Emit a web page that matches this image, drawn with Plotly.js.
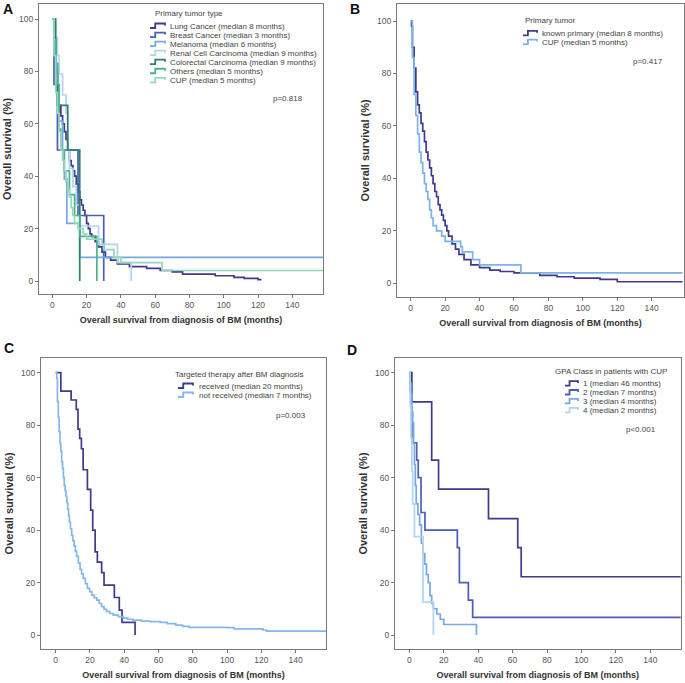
<!DOCTYPE html>
<html><head><meta charset="utf-8">
<script src="https://cdn.plot.ly/plotly-3.0.1.min.js"></script>
<style>body{margin:0;background:#fff}#chart{width:685px;height:683px}</style>
</head><body><div id="chart"></div>
<script>
// ---------- Panel A: Primary tumor type ----------
const lungT = [0,1,2,3,4,5,6,7,8,9,10,11,12,13,14,15,16,17,18,19,20,21,22,23,25,27,29,31,34,38,45,55,63,70,76,95,106,112,120,122];
const lungS = [100,92,80,72,67,63,60,57,54,50,46,44,42,40,37,34,31,29,27,25,22,20,18,17,15,13,11,9,8,6.5,5.5,4.8,4,3.5,2.6,2,1.4,1,0.5,0.5];
const breastT = [0,1,3,15,30];
const breastS = [100,75,50,25,0];
const melT = [0,1,2,3,4,6,7,8.5,16,158];
const melS = [100,89,78,67,61,50,39,22,9,9];
const renalT = [0,1,3,4,6,8,9,10,12,14,16,27,38,46];
const renalS = [100,93,86,79,71,64,50,43,36,29,21,14,7,0];
const crcT = [0,2,3,9,16];
const crcS = [100,83,67,50,0];
const othT = [0,1,2,3,4,5,7,10,13,16,26];
const othS = [100,92,83,75,58,50,42,33,25,17,0];
const cupT = [0,1,2,3,4,5,6,7,8,9,10,11,12,13,15,18,20,29,30,36,40,64,158];
const cupS = [100,86,72,64,57,50,46,42,38,35,32,28,25,22,20,18,16,14,12,9,7,4,4];
const labelsA = ['Lung Cancer (median 8 months)','Breast Cancer (median 3 months)','Melanoma (median 6 months)','Renal Cell Carcinoma (median 9 months)','Colorectal Carcinoma (median 9 months)','Others (median 5 months)','CUP (median 5 months)'];
const titleA = 'Primary tumor type';
const pA = 'p=0.818';

// ---------- Panel B: Primary tumor ----------
const knownT = [0,0.5,1,2,3,4,5,6,7,8,9,10,11,12,13,14,15,16,17,18,19,20,21,22,24,26,28,31,35,40,46,52,60,75,85,95,110,120,158];
const knownS = [100,98,90,82,73,68,65,61,58,54,50,47,44,41,38,35,33,30,28,26,24,22,20,18,15,13,11,9,7,6,5,4.5,4,3,2.5,2,1.5,0.6,0.6];
const labelsB = ['known primary (median 8 months)','CUP (median 5 months)'];
const titleB = 'Primary tumor';
const pB = 'p=0.417';

// ---------- Panel C: Targeted therapy ----------
const recT = [0,3,9,12,13,14,15,16,18.5,20.4,21.6,23,24.3,26.8,28.2,34.2,37.1,38.7,46.3];
const recS = [100,93,89.6,86,78.5,75,71,63,55.5,47.6,40,31.7,27.8,23.8,19,14.3,9.5,4.8,0];
const notT = [0,0.6,1,1.5,2,2.5,3,3.5,4,4.5,5,5.5,6,6.5,7,7.5,8,8.6,9.3,10,10.7,11.5,12.2,13.2,14.2,15.1,16.1,17.3,18.5,19.8,21,22.5,24,25.4,26.8,28.2,29.7,31.6,33.6,36.5,39.5,42,45,50,55,61,65,70,74,78,100,104,121,123,158];
const notS = [100,97.8,89,83,77.5,73,70,66,63.5,60,57,55,53,50.5,48,45.5,43,40.5,38,36,34,32,30,27.5,25,23.3,21.6,19.6,17.8,16.5,15.2,14.2,13.3,12,10.8,9.8,8.9,8.2,7.6,7,6.4,6,5.7,5.3,5.1,4.8,4.3,3.8,3.3,2.9,2.8,2.3,1.9,1.5,1.5];
const labelsC = ['received (median 20 months)','not received (median 7 months)'];
const titleC = 'Targeted therapy after BM diagnosis';
const pC = 'p=0.003';

// ---------- Panel D: GPA class in CUP ----------
const g1T = [0,1.5,13,17,46,63,65,158];
const g1S = [100,88.9,66.7,55.6,44.4,33.3,22.2,22.2];
const g2T = [0,0.5,1,1.5,4.3,5.2,6.8,9.1,27.9,29.1,34.3,36.8,158];
const g2S = [100,93.3,86.7,73.3,66.7,60,46.7,40,33.3,20,13.3,6.7,6.7];
const g3T = [0,0.5,1,1.5,2,2.5,3,3.5,4,5,6,7,8,9,10,11,12,13,14,16,18,20,39];
const g3S = [100,96,92,85,81,73,65,57,50,46,42,35,31,27,23,20,15,12,10,8,6,4,0];
const g4T = [0,0.5,1,1.5,2,3,8,14];
const g4S = [100,87.5,75,62.5,50,37.5,12.5,0];
const labelsD = ['1 (median 46 months)','2 (median 7 months)','3 (median 4 months)','4 (median 2 months)'];
const titleD = 'GPA Class in patients with CUP';
const pD = 'p<0.001';

const xTicks = [0,20,40,60,80,100,120,140];
const yTicks = [0,20,40,60,80,100];
const panelLetters = ['A','B','C','D'];
const xTitle = 'Overall survival from diagnosis of BM (months)';
const yTitle = 'Overall survival (%)';

// ---------- styling ----------
const C = {
  navy:'#3d3b8e', blue:'#4a5db8', light:'#74a9e2', pale:'#b3d4f0',
  teal:'#2b7f6f', green:'#4bb48b', mint:'#95d8bb'
};
const W = 685, H = 683;
const px = x => x / W, py = y => 1 - y / H;
const FONT = 'Liberation Sans, Arial, sans-serif';

const series = [
  {t:lungT, s:lungS, c:C.navy, ax:1},
  {t:breastT, s:breastS, c:C.blue, ax:1},
  {t:melT, s:melS, c:C.light, ax:1},
  {t:renalT, s:renalS, c:C.pale, ax:1},
  {t:crcT, s:crcS, c:C.teal, ax:1},
  {t:othT, s:othS, c:C.green, ax:1},
  {t:cupT, s:cupS, c:C.mint, ax:1},
  {t:knownT, s:knownS, c:C.navy, ax:2},
  {t:cupT, s:cupS, c:'#7cb3e8', ax:2},
  {t:recT, s:recS, c:C.navy, ax:3},
  {t:notT, s:notS, c:'#84b8ea', ax:3},
  {t:g1T, s:g1S, c:C.navy, ax:4},
  {t:g2T, s:g2S, c:C.blue, ax:4},
  {t:g3T, s:g3S, c:C.light, ax:4},
  {t:g4T, s:g4S, c:C.pale, ax:4}
];
const traces = series.map(d => ({
  x:d.t, y:d.s, type:'scatter', mode:'lines',
  line:{shape:'hv', color:d.c, width:1.7},
  xaxis: d.ax===1?'x':'x'+d.ax, yaxis: d.ax===1?'y':'y'+d.ax,
  showlegend:false, hoverinfo:'skip'
}));

// frames in pixels: [left,right,top,bottom], x tick0 pixel, px per month, y100 pixel, y0 pixel
const frames = [
  {l:39, r:323, t:4, b:294, x0:52.3, xs:240/140, y100:19, yz:281},
  {l:397, r:684, t:4, b:296.7, x0:410.7, xs:241/140, y100:21, yz:283.3},
  {l:41, r:326, t:357.7, b:649, x0:55.7, xs:240/140, y100:372.7, yz:635},
  {l:395, r:680.7, t:358, b:649, x0:409.3, xs:241/140, y100:372.7, yz:635}
];
const layout = {
  width:W, height:H, margin:{l:0,r:0,t:0,b:0},
  paper_bgcolor:'#fff', plot_bgcolor:'#fff',
  font:{family:FONT, size:8.5, color:'#555'},
  showlegend:false, annotations:[], shapes:[]
};
frames.forEach((f,i) => {
  const k = i===0 ? '' : String(i+1);
  const ys = (f.yz - f.y100)/100;
  layout['xaxis'+k] = {
    domain:[px(f.l), px(f.r)], anchor:'y'+k,
    range:[-(f.x0-f.l)/f.xs, (f.r-f.x0)/f.xs],
    tickvals:xTicks, ticks:'outside', ticklen:3, tickcolor:'#777',
    showline:true, mirror:true, linecolor:'#7a7a7a', linewidth:1,
    showgrid:false, zeroline:false,
    tickfont:{family:FONT, size:8.5, color:'#555'},
    title:{text:xTitle, font:{family:FONT, size:9, color:'#333', weight:'bold'}, standoff:7}
  };
  layout['yaxis'+k] = {
    domain:[py(f.b), py(f.t)], anchor:'x'+k,
    range:[-(f.b-f.yz)/ys, 100+(f.y100-f.t)/ys],
    tickvals:yTicks, ticks:'outside', ticklen:3, tickcolor:'#777',
    showline:true, mirror:true, linecolor:'#7a7a7a', linewidth:1,
    showgrid:false, zeroline:false,
    tickfont:{family:FONT, size:8.5, color:'#555'},
    title:{text:yTitle, font:{family:FONT, size:11, color:'#333', weight:'bold'}, standoff:5}
  };
});

// panel letters
const letterPos = [[8,9],[355,9],[9,348],[352,350]];
panelLetters.forEach((L,i) => layout.annotations.push({
  xref:'paper', yref:'paper', x:px(letterPos[i][0]), y:py(letterPos[i][1]),
  xanchor:'center', yanchor:'middle', showarrow:false, text:'<b>'+L+'</b>',
  font:{family:FONT, size:14, color:'#111'}
}));

// legends (title, step-symbol + label rows, p value)
const legends = [
  {title:titleA, labels:labelsA, colors:[C.navy,C.blue,C.light,C.pale,C.teal,C.green,C.mint],
   tx:153, ty:14, y0:26, dy:9.05, sx:150, sw:15, lx:168, p:pA, prx:305, pry:98},
  {title:titleB, labels:labelsB, colors:[C.navy,'#7cb3e8'],
   tx:523, ty:20, y0:33.3, dy:8.8, sx:523, sw:14, lx:540, p:pB, prx:665, pry:61.7},
  {title:titleC, labels:labelsC, colors:[C.navy,'#84b8ea'],
   tx:173, ty:374, y0:386, dy:9, sx:178, sw:15, lx:197, p:pC, prx:308, pry:415},
  {title:titleD, labels:labelsD, colors:[C.navy,C.blue,C.light,C.pale],
   tx:553, ty:371, y0:383.6, dy:8.9, sx:565, sw:13, lx:581, p:pD, prx:658, pry:429}
];
legends.forEach(g => {
  layout.annotations.push({xref:'paper', yref:'paper', x:px(g.tx), y:py(g.ty), xanchor:'left', yanchor:'middle',
    showarrow:false, text:g.title, font:{family:FONT, size:8, color:'#444'}});
  g.labels.forEach((lab,j) => {
    const yy = g.y0 + j*g.dy;
    layout.annotations.push({xref:'paper', yref:'paper', x:px(g.lx), y:py(yy), xanchor:'left', yanchor:'middle',
      showarrow:false, text:lab, font:{family:FONT, size:8, color:'#444'}});
    const x0 = g.sx, x1 = g.sx + g.sw*0.35, x2 = g.sx + g.sw;
    const yb = yy + 2, yt = yy - 2.5;
    const path = 'M'+px(x0)+','+py(yb)+' L'+px(x1)+','+py(yb)+' L'+px(x1)+','+py(yt)+' L'+px(x2)+','+py(yt)+' L'+px(x2)+','+py(yt+2);
    layout.shapes.push({type:'path', xref:'paper', yref:'paper', path:path, line:{color:g.colors[j], width:1.8}});
  });
  layout.annotations.push({xref:'paper', yref:'paper', x:px(g.prx), y:py(g.pry), xanchor:'right', yanchor:'middle',
    showarrow:false, text:g.p, font:{family:FONT, size:8, color:'#444'}});
});

Plotly.newPlot('chart', traces, layout, {staticPlot:true});
</script>
</body></html>
